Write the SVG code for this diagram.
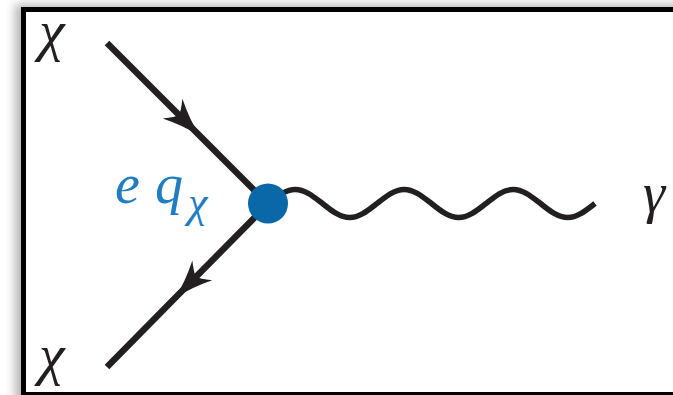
<svg xmlns="http://www.w3.org/2000/svg" width="673" height="395" viewBox="0 0 673 395">
  <defs>
    <filter id="shadow" x="-20%" y="-20%" width="140%" height="140%">
      <feGaussianBlur stdDeviation="5"/>
    </filter>
    <marker id="arrow" markerUnits="userSpaceOnUse" markerWidth="60" markerHeight="60" refX="0" refY="0" orient="auto" overflow="visible">
      <path d="M3,0 Q-16,-4 -36,-14 Q-28,-4 -27,0 Q-28,4 -36,14 Q-16,4 3,0 Z" fill="#231f20"/>
    </marker>
  </defs>
  <style>
    .frame { fill: #ffffff; stroke: #000000; stroke-width: 5; }
    .fermion { fill: none; stroke: #231f20; stroke-width: 6.5; }
    .photon { fill: none; stroke: #231f20; stroke-width: 5.5; }
    .math { fill: #231f20; }
    .coupling { fill: #1f7dc1; }
  </style>

  <rect x="0" y="0" width="673" height="395" fill="#ffffff"/>

  <g id="frame">
    <rect x="15" y="4" width="720" height="400" fill="#7a7a7a" opacity="0.55" filter="url(#shadow)"/>
    <rect class="frame" x="23.5" y="9.5" width="700" height="385"/>
  </g>

  <g id="connectors">
    <path id="fermion-in" class="fermion" d="M107,43 L198,134 L268,204" marker-mid="url(#arrow)"/>
    <path id="fermion-out" class="fermion" d="M268,204 L177,296 L107,367" marker-mid="url(#arrow)"/>
    <path id="photon" class="photon" d="M268,203.5
      c 8.89,-7.17 17.39,-14 27.25,-14 c 9.86,0 18.36,7.17 27.25,14 c 8.89,7.17 17.39,14 27.25,14 c 9.86,0 18.36,-7.17 27.25,-14
      c 8.89,-7.17 17.39,-14 27.25,-14 c 9.86,0 18.36,7.17 27.25,14 c 8.89,7.17 17.39,14 27.25,14 c 9.86,0 18.36,-7.17 27.25,-14
      c 8.89,-7.17 17.39,-14 27.25,-14 c 9.86,0 18.36,7.17 27.25,14 c 8.89,7.17 17.39,14 27.25,14 c 9.86,0 18.36,-7.17 27.25,-14"/>
  </g>

  <g id="vertex">
    <circle cx="268" cy="203.5" r="20" fill="#0b68a8"/>
    <text class="coupling" font-family="'Liberation Serif'" font-style="italic" x="115" y="203" font-size="56">e</text>
    <text class="coupling" font-family="'Liberation Serif'" font-style="italic" x="155" y="203" font-size="56">q</text>
    <text class="coupling" font-family="'Liberation Serif'" font-style="italic" x="188" y="217" font-size="44">χ</text>
  </g>

  <g id="chi-in">
    <text class="math" font-family="'Liberation Serif'" font-style="italic" x="39" y="50" font-size="58">χ</text>
  </g>
  <g id="chi-out">
    <text class="math" font-family="'Liberation Serif'" font-style="italic" x="39" y="374" font-size="58">χ</text>
  </g>
  <g id="photon-label">
    <text class="math" font-family="'Liberation Serif'" font-style="italic" x="643" y="212" font-size="56">γ</text>
  </g>
</svg>
